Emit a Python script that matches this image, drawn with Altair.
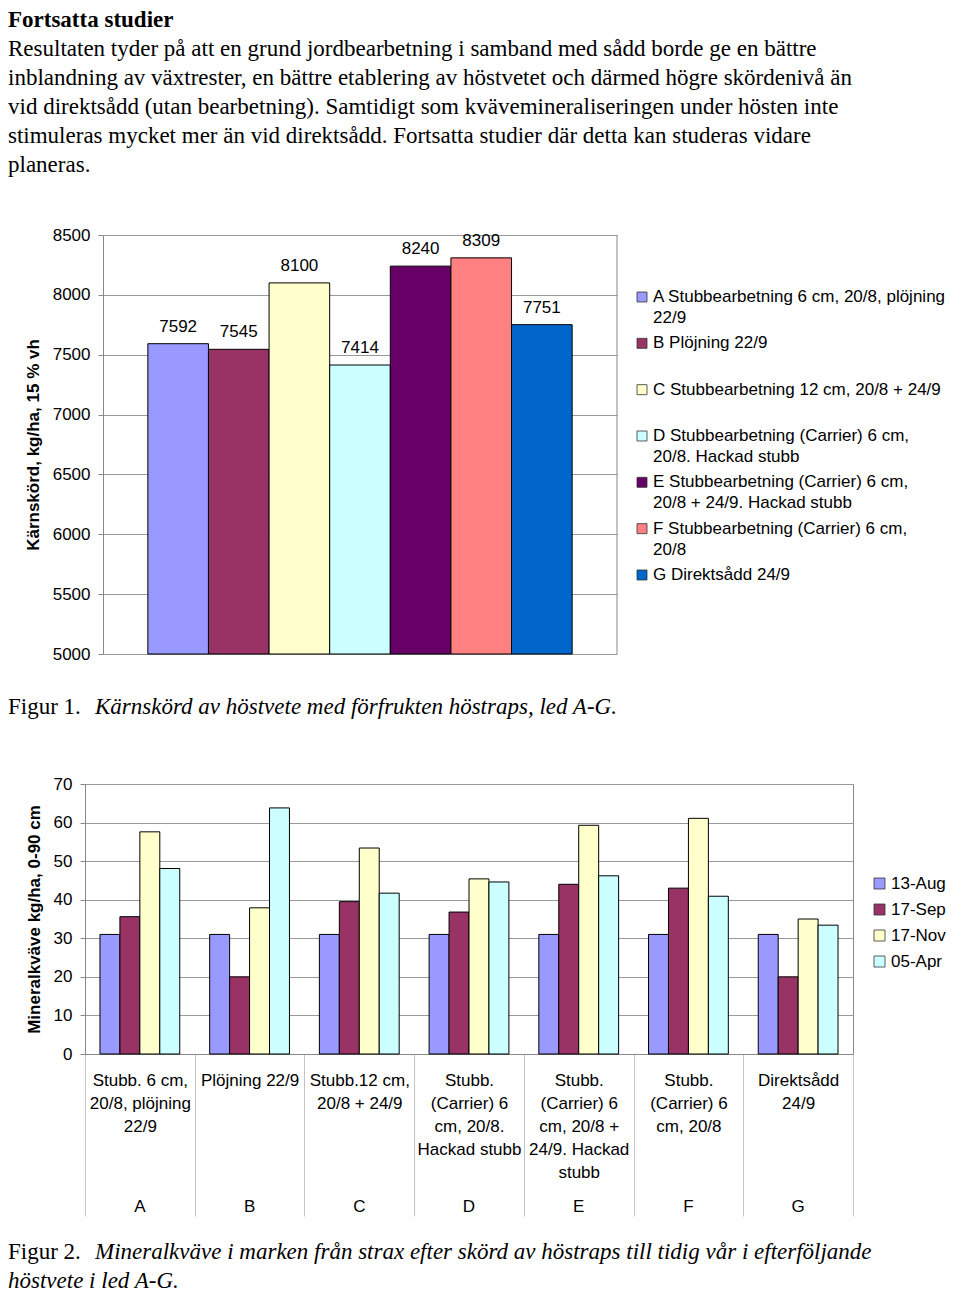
import altair as alt
import pandas as pd

SERIF = "Liberation Serif"
SANS = "Liberation Sans"

# ---------------- text ----------------
heading = "Fortsatta studier"
paragraph_lines = [
    "Resultaten tyder på att en grund jordbearbetning i samband med sådd borde ge en bättre",
    "inblandning av växtrester, en bättre etablering av höstvetet och därmed högre skördenivå än",
    "vid direktsådd (utan bearbetning). Samtidigt som kvävemineraliseringen under hösten inte",
    "stimuleras mycket mer än vid direktsådd. Fortsatta studier där detta kan studeras vidare",
    "planeras.",
]
fig1_prefix = "Figur 1."
fig1_caption = "Kärnskörd av höstvete med förfrukten höstraps, led A-G."
fig2_prefix = "Figur 2."
fig2_caption_lines = [
    "Mineralkväve i marken från strax efter skörd av höstraps till tidig vår i efterföljande",
    "höstvete i led A-G.",
]

# ---------------- figure 1 data ----------------
leds = ["A", "B", "C", "D", "E", "F", "G"]
led_labels = [
    "A Stubbearbetning 6 cm, 20/8, plöjning|22/9",
    "B Plöjning 22/9",
    "C Stubbearbetning 12 cm, 20/8 + 24/9",
    "D Stubbearbetning (Carrier) 6 cm,|20/8. Hackad stubb",
    "E Stubbearbetning (Carrier) 6 cm,|20/8 + 24/9. Hackad stubb",
    "F Stubbearbetning (Carrier) 6 cm,|20/8",
    "G Direktsådd 24/9",
]
yields = [7592, 7545, 8100, 7414, 8240, 8309, 7751]
led_colors = ["#9999FF", "#993366", "#FFFFCC", "#CCFFFF", "#660066", "#FF8080", "#0066CC"]
yield_ticks = [5000, 5500, 6000, 6500, 7000, 7500, 8000, 8500]

# ---------------- figure 2 data ----------------
cat_labels = [
    "Stubb. 6 cm,|20/8, plöjning|22/9",
    "Plöjning 22/9",
    "Stubb.12 cm,|20/8 + 24/9",
    "Stubb.|(Carrier) 6|cm, 20/8.|Hackad stubb",
    "Stubb.|(Carrier) 6|cm, 20/8 +|24/9. Hackad|stubb",
    "Stubb.|(Carrier) 6|cm, 20/8",
    "Direktsådd|24/9",
]
dates = ["13-Aug", "17-Sep", "17-Nov", "05-Apr"]
date_colors = ["#9999FF", "#993366", "#FFFFCC", "#CCFFFF"]
n_13aug = [31, 31, 31, 31, 31, 31, 31]
n_17sep = [35.6, 20.0, 39.5, 36.8, 44.0, 43.0, 20.0]
n_17nov = [57.6, 37.9, 53.4, 45.4, 59.3, 61.1, 35.0]
n_05apr = [48.1, 63.8, 41.7, 44.6, 46.2, 40.9, 33.4]
n_ticks = [0, 10, 20, 30, 40, 50, 60, 70]

GRID = "#9a9a9a"
FRAME = "#888888"
FS = 17
TXT_X = -77          # prose starts left of the figure-2 plot edge
SHIFT1 = 18          # figure-1 plot starts 18 px right of the figure-2 plot edge

# ---------------- row A: heading + paragraph ----------------
HA = 212
ysA = alt.Scale(domain=[-12 / 29, -12 / 29 + HA / 29], reverse=True, nice=False, zero=False)
head_df = pd.DataFrame({"i": [0], "t": [heading]})
para_df = pd.DataFrame({"i": list(range(1, len(paragraph_lines) + 1)), "t": paragraph_lines})
headA = alt.Chart(head_df).mark_text(
    align="left", baseline="middle", font=SERIF, fontSize=23, fontWeight="bold", color="black"
).encode(x=alt.value(TXT_X), y=alt.Y("i:Q", scale=ysA, axis=None), text="t:N")
paraA = alt.Chart(para_df).mark_text(
    align="left", baseline="middle", font=SERIF, fontSize=23, color="black"
).encode(x=alt.value(TXT_X), y=alt.Y("i:Q", scale=ysA, axis=None), text="t:N")
rowA = alt.layer(headA, paraA).properties(width=760, height=HA)

# ---------------- row B: figure 1 ----------------
W1, H1 = 514, 419
df1 = pd.DataFrame({"led": leds, "yield": yields, "label": led_labels, "idx": list(range(len(leds)))})
fill1 = alt.Fill("led:N", scale=alt.Scale(domain=leds, range=led_colors), legend=None)
x1 = alt.X("led:N", sort=leds,
           scale=alt.Scale(paddingInner=0, paddingOuter=0.74, range=[SHIFT1, SHIFT1 + W1]), axis=None)
y1 = alt.Y(
    "yield:Q",
    scale=alt.Scale(domain=[5000, 8500], nice=False, zero=False),
    axis=alt.Axis(
        values=yield_ticks, title="Kärnskörd, kg/ha, 15 % vh", titleFontSize=FS, titleFontWeight="bold",
        labelFontSize=FS, tickSize=5, tickColor=FRAME, domainColor=FRAME, gridColor=GRID,
        labelPadding=8, titlePadding=10, format="d", offset=-SHIFT1,
    ),
)
base1 = alt.Chart(df1)
bars1 = base1.mark_bar(stroke="black", strokeWidth=1).encode(
    x=x1, y=y1, y2=alt.datum(5000), fill=fill1
)
vals1 = base1.mark_text(dy=-17, fontSize=FS, font=SANS, color="black").encode(
    x=x1, y=alt.Y("yield:Q"), text=alt.Text("yield:Q", format="d")
)
ysLeg = alt.Scale(domain=[-62 / 46.33, -62 / 46.33 + H1 / 46.33], reverse=True, nice=False, zero=False)
legsq = base1.mark_square(size=100, stroke="#333333", strokeWidth=0.8, opacity=1).encode(
    x=alt.value(SHIFT1 + 539), y=alt.Y("idx:Q", scale=ysLeg, axis=None), fill=fill1
)
legtxt = base1.mark_text(
    align="left", baseline="top", dy=-8, lineBreak="|", lineHeight=21, fontSize=FS, font=SANS, color="black"
).encode(x=alt.value(SHIFT1 + 550), y=alt.Y("idx:Q", scale=ysLeg, axis=None), text="label:N")
frame1 = alt.Chart(pd.DataFrame({"a": [0]})).mark_rule(color=FRAME, strokeWidth=1).encode(
    x=alt.value(SHIFT1 + W1), y=alt.value(0), y2=alt.value(H1)
)
anchor1 = alt.Chart(pd.DataFrame({"a": [0]})).mark_rule(opacity=0).encode(
    x=alt.value(SHIFT1), y=alt.value(-15), y2=alt.value(H1 + 16)
)
rowB = alt.layer(
    alt.layer(bars1, vals1), alt.layer(legsq, legtxt), frame1, anchor1
).resolve_scale(y="independent").properties(width=SHIFT1 + W1, height=H1)

# ---------------- row C: caption 1 ----------------
HC = 98
cap1a = alt.Chart(pd.DataFrame({"t": [fig1_prefix]})).mark_text(
    align="left", baseline="middle", font=SERIF, fontSize=23, color="black"
).encode(x=alt.value(TXT_X), y=alt.value(37), text="t:N")
cap1b = alt.Chart(pd.DataFrame({"t": [fig1_caption]})).mark_text(
    align="left", baseline="middle", font=SERIF, fontSize=23, fontStyle="italic", dx=87, color="black"
).encode(x=alt.value(TXT_X), y=alt.value(37), text="t:N")
rowC = alt.layer(cap1a, cap1b).properties(width=760, height=HC)

# ---------------- row D: figure 2 ----------------
W2, H2 = 768, 270
rows = []
for k, cat in enumerate(cat_labels):
    for d, vals in zip(dates, [n_13aug, n_17sep, n_17nov, n_05apr]):
        rows.append({"cat": cat, "date": d, "n": vals[k]})
df2 = pd.DataFrame(rows)
df2cat = pd.DataFrame({"cat": cat_labels, "letter": leds})

x2 = alt.X(
    "cat:N", sort=cat_labels, scale=alt.Scale(paddingInner=0, paddingOuter=0),
    axis=alt.Axis(
        title=None, labelExpr="split(datum.label, '|')", labelFontSize=FS, labelLineHeight=23,
        labelAngle=0, labelPadding=-144, tickBand="extent", tickSize=162, tickColor="#c4c4c4",
        domainColor=FRAME, labelBaseline="top",
    ),
)
bars2 = alt.Chart(df2).mark_bar(stroke="black", strokeWidth=1).encode(
    x=x2,
    xOffset=alt.XOffset("date:N", sort=dates, scale=alt.Scale(paddingInner=0, paddingOuter=0.75)),
    y=alt.Y(
        "n:Q", scale=alt.Scale(domain=[0, 70], nice=False),
        axis=alt.Axis(
            values=n_ticks, title="Mineralkväve kg/ha, 0-90 cm", titleFontSize=FS, titleFontWeight="bold",
            labelFontSize=FS, tickSize=5, tickColor=FRAME, domainColor=FRAME, gridColor=GRID,
            labelPadding=8, titlePadding=10,
        ),
    ),
    color=alt.Color(
        "date:N", sort=dates, scale=alt.Scale(domain=dates, range=date_colors),
        legend=alt.Legend(
            title=None, orient="none", legendX=786, legendY=91, symbolType="square", symbolSize=121,
            symbolStrokeColor="#333333", symbolStrokeWidth=0.8, labelFont=SANS, labelFontSize=FS,
            labelColor="black", rowPadding=8, padding=0, labelOffset=3,
        ),
    ),
)
letters = alt.Chart(df2cat).mark_text(fontSize=FS, font=SANS, baseline="middle", color="black").encode(
    x=x2, y=alt.value(423), text="letter:N"
)
anchor2 = alt.Chart(pd.DataFrame({"a": [0]})).mark_rule(opacity=0).encode(
    x=alt.value(0), y=alt.value(-15), y2=alt.value(442)
)
rowD = alt.layer(bars2, letters, anchor2).properties(
    width=W2, height=H2, view=alt.ViewBackground(stroke=FRAME, strokeWidth=1)
)

# ---------------- row E: caption 2 ----------------
HE = 60
ysE = alt.Scale(domain=[-25 / 29, -25 / 29 + HE / 29], reverse=True, nice=False, zero=False)
cap2a = alt.Chart(pd.DataFrame({"i": [0], "t": [fig2_prefix]})).mark_text(
    align="left", baseline="middle", font=SERIF, fontSize=23, color="black"
).encode(x=alt.value(TXT_X), y=alt.Y("i:Q", scale=ysE, axis=None), text="t:N")
cap2b = alt.Chart(pd.DataFrame({"i": [0], "t": [fig2_caption_lines[0]]})).mark_text(
    align="left", baseline="middle", font=SERIF, fontSize=23, fontStyle="italic", dx=87, color="black"
).encode(x=alt.value(TXT_X), y=alt.Y("i:Q", scale=ysE, axis=None), text="t:N")
cap2c = alt.Chart(pd.DataFrame({"i": [1], "t": [fig2_caption_lines[1]]})).mark_text(
    align="left", baseline="middle", font=SERIF, fontSize=23, fontStyle="italic", color="black"
).encode(x=alt.value(TXT_X), y=alt.Y("i:Q", scale=ysE, axis=None), text="t:N")
rowE = alt.layer(cap2a, cap2b, cap2c).properties(width=760, height=HE)

chart = alt.vconcat(rowA, rowB, rowC, rowD, rowE, spacing=0).resolve_scale(
    color="independent", fill="independent"
).resolve_legend(color="independent", fill="independent").properties(
    padding=0, background="white"
).configure_view(stroke=None).configure_axis(
    labelFont=SANS, titleFont=SANS, labelColor="black", titleColor="black"
)

chart.save("out.html", embed_options={"renderer": "svg", "actions": False})
